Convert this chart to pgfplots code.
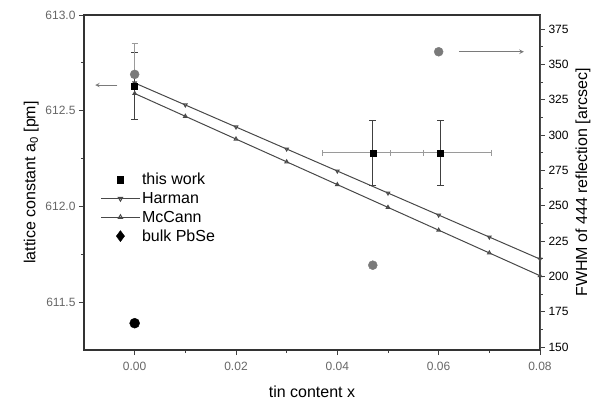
\documentclass[border=0pt]{standalone}
\usepackage{pgfplots}
\pgfplotsset{compat=1.18}
\usepackage{fontspec}
\setmainfont{Liberation Sans}
\definecolor{lineg}{HTML}{484848}
\definecolor{dotg}{HTML}{7A7A7A}
\definecolor{errg}{HTML}{9A9A9A}
\pgfplotsset{
  lineleg/.style={legend image code/.code={%
    \draw[mark repeat=2, mark phase=2, ##1] plot coordinates {(0cm,0cm) (0.67cm,0cm) (1.34cm,0cm)};}},
  markleg/.style={legend image code/.code={%
    \draw[##1] plot coordinates {(0.67cm,0cm)};}},
}
\begin{document}
\begin{tikzpicture}
\useasboundingbox (-84pt,-55pt) rectangle (515pt,350pt);
\begin{axis}[
  width=456pt, height=335pt, scale only axis,
  xmin=-0.01, xmax=0.08, ymin=611.25, ymax=613.0,
  xtick={0,0.02,0.04,0.06,0.08}, minor x tick num=1,
  ytick={611.5,612.0,612.5,613.0}, minor y tick num=1,
  scaled x ticks=false, scaled y ticks=false,
  xtick pos=bottom, ytick pos=left, tick align=outside,
  major tick length=5pt, minor tick length=3pt,
  tick style={black!75, line width=0.8pt},
  axis line style={line width=1.1pt, black!80},
  /pgf/number format/assume math mode=true,
  xticklabel style={/pgf/number format/fixed, /pgf/number format/fixed zerofill, /pgf/number format/precision=2, yshift=-4pt},
  yticklabel style={/pgf/number format/fixed, /pgf/number format/fixed zerofill, /pgf/number format/precision=1},
  ticklabel style={font=\fontsize{12}{12}\selectfont, text=black!60},
  xlabel={tin content x}, ylabel={lattice constant a\textsubscript{0} [pm]},
  label style={font=\fontsize{16}{16}\selectfont},
  xlabel style={yshift=-8pt},
  legend style={at={(axis description cs:0.03,0.54)}, anchor=north west, draw=none, fill=none,
    font=\fontsize{16}{16}\selectfont, row sep=2pt},
  legend cell align=left,
]
\addlegendimage{markleg, only marks, mark=square*, black, mark size=3.2pt}
\addlegendentry{this work}
\addlegendimage{lineleg, lineg, line width=1pt, mark=triangle, mark size=2.5pt, mark options={rotate=180, fill=white}}
\addlegendentry{Harman}
\addlegendimage{lineleg, lineg, line width=1pt, mark=triangle, mark size=2.5pt, mark options={fill=white}}
\addlegendentry{McCann}
\addlegendimage{markleg, only marks, mark=diamond*, black, mark size=5.5pt}
\addlegendentry{bulk PbSe}
% Harman (upper line)
\addplot[forget plot, lineg, line width=1pt, mark=triangle, mark size=2pt, mark options={rotate=180, fill=white}] coordinates {
(0,612.645) (0.01,612.530) (0.02,612.415) (0.03,612.300) (0.04,612.185)
(0.05,612.070) (0.06,611.955) (0.07,611.840) (0.08,611.725)};
% McCann (lower line)
\addplot[forget plot, lineg, line width=1pt, mark=triangle, mark size=2pt, mark options={fill=white}] coordinates {
(0,612.590) (0.01,612.471) (0.02,612.352) (0.03,612.233) (0.04,612.114)
(0.05,611.995) (0.06,611.876) (0.07,611.757) (0.08,611.638)};
% horizontal error bars (light)
\addplot[forget plot, only marks, mark=none, error bars/.cd, x dir=both, x explicit,
  error bar style={errg, line width=1pt}, error mark options={rotate=90, mark size=3pt, errg}] coordinates {
(0.047,612.28) +- (0.01,0) (0.0604,612.28) +- (0.01,0)};
% this work
\addplot[forget plot, only marks, mark=square*, mark size=3pt, black, error bars/.cd, y dir=both, y explicit,
  error bar style={black!75, line width=1.1pt}, error mark options={rotate=90, mark size=3.5pt, black!75, line width=1pt}] coordinates {
(0,612.63) +- (0,0.175) (0.047,612.28) +- (0,0.17) (0.0604,612.28) +- (0,0.17)};
% bulk PbSe
\addplot[forget plot, only marks, mark=*, mark size=5pt, black] coordinates {(0,611.39)};
\draw[-stealth, dotg, line width=1pt] (axis cs:-0.0034,612.634) -- (axis cs:-0.0078,612.634);
\end{axis}
\begin{axis}[
  width=456pt, height=335pt, scale only axis,
  xmin=-0.01, xmax=0.08, ymin=148, ymax=385,
  axis x line=none, axis y line*=right,
  ytick={150,175,...,375}, minor y tick num=1, tick align=outside,
  major tick length=5pt, minor tick length=3pt,
  tick style={black!75, line width=0.8pt},
  axis line style={line width=0.8pt, black!70},
  /pgf/number format/assume math mode=true,
  ticklabel style={font=\fontsize{12}{12}\selectfont, text=black},
  ylabel={FWHM of 444 reflection [arcsec]},
  label style={font=\fontsize{16}{16}\selectfont},
]
\addplot[only marks, mark=*, mark size=4.5pt, dotg, error bars/.cd, y dir=plus, y explicit,
  error bar style={errg, line width=1pt}, error mark options={rotate=90, mark size=3pt, errg}] coordinates {
(0,343) +- (0,22) (0.047,208) +- (0,0) (0.06,359) +- (0,0)};
\draw[-stealth, dotg, line width=1pt] (axis cs:0.064,359) -- (axis cs:0.0768,359);
\end{axis}
\end{tikzpicture}
\end{document}
